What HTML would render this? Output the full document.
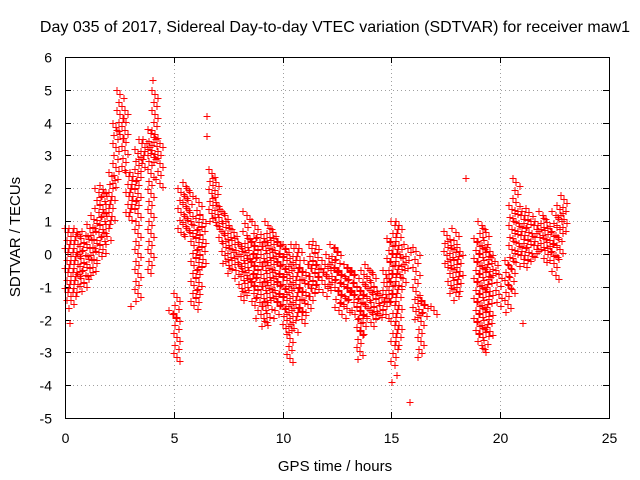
<!DOCTYPE html>
<html><head><meta charset="utf-8"><style>
body{margin:0;background:#fff;}
svg{display:block;font-family:"Liberation Sans",sans-serif;}
</style></head><body>
<svg id="chart" width="640" height="480">
<text x="335" y="32" text-anchor="middle" font-size="16">Day 035 of 2017, Sidereal Day-to-day VTEC variation (SDTVAR) for receiver maw1</text>
<text x="335" y="471" text-anchor="middle" font-size="15">GPS time / hours</text>
<text transform="translate(20,237) rotate(-90)" text-anchor="middle" font-size="15">SDTVAR / TECUs</text>
<g id="grid"></g>
<g id="ticks"></g>
<g id="marks"></g>
<rect x="65.5" y="57.5" width="544" height="361" fill="none" stroke="#000" stroke-width="1"/>
</svg>
<script>
const xTicks=[0,5,10,15,20,25];
const yTicks=[6,5,4,3,2,1,0,-1,-2,-3,-4,-5];
const binT=[0,0.2,0.4,0.6,0.8,1.0,1.2,1.4,1.6,1.8,2.0,2.2,2.4,2.6,2.8,3.0,3.2,3.4,3.6,3.8,4.0,4.2,4.8,5.0,5.2,5.4,5.6,5.8,6.0,6.2,6.6,6.8,7.0,7.2,7.4,7.6,7.8,8.0,8.2,8.4,8.6,8.8,9.0,9.2,9.4,9.6,9.8,10.0,10.2,10.4,10.6,10.8,11.0,11.2,11.4,11.6,11.8,12.0,12.2,12.4,12.6,12.8,13.0,13.2,13.4,13.6,13.8,14.0,14.2,14.4,14.6,14.8,15.0,15.2,15.4,15.6,16.0,16.2,16.4,16.8,17.4,17.6,17.8,18.0,18.8,19.0,19.2,19.4,19.6,19.8,20.2,20.4,20.6,20.8,21.0,21.2,21.4,21.6,21.8,22.0,22.2,22.4,22.6,22.8];
const binLo=[-1.5,-1.7,-1.2,-1.0,-1.2,-0.8,-0.7,-0.3,0.0,0.3,0.8,2.0,3.5,2.5,1.0,1.2,-1.5,2.5,2.8,-0.6,2.8,2.0,-2.0,-3.3,0.5,0.5,0.5,-1.8,-1.5,-0.5,1.0,0.8,0.3,-0.3,-0.7,-0.5,-0.8,-1.5,-1.3,-1.2,-1.6,-2.0,-2.3,-2.2,-1.5,-2.0,-1.7,-2.5,-3.3,-2.5,-2.0,-2.2,-1.8,-1.5,-1.3,-1.0,-1.3,-1.2,-1.0,-1.7,-2.0,-1.8,-1.4,-2.0,-3.2,-2.5,-2.0,-2.3,-2.0,-2.0,-2.0,-1.5,-3.5,-2.8,-1.0,-0.5,-2.0,-3.2,-2.0,-1.9,-0.5,-1.3,-1.4,-1.2,-2.5,-3.0,-3.0,-2.5,-0.8,-1.6,-1.8,-1.3,-0.5,-0.2,-0.5,-0.3,-0.3,0.0,0.0,-0.3,-0.2,-0.8,-0.2,0.7];
const binHi=[0.8,0.8,0.8,0.6,0.7,0.9,1.2,2.0,2.1,1.9,2.5,4.0,5.0,4.5,2.5,2.5,3.2,3.5,3.5,3.8,5.0,3.5,-1.7,-1.2,2.0,2.2,2.0,1.0,1.7,1.2,2.6,2.3,1.5,1.3,1.0,0.8,0.5,0.3,1.3,0.5,1.0,0.5,0.6,1.0,0.8,0.5,0.4,0.3,0.0,0.3,0.3,-0.4,-0.2,0.3,0.4,-0.3,-0.2,0.0,0.3,0.2,-0.5,-0.3,-0.4,-0.5,-1.0,-0.5,-0.3,-0.5,-1.0,-1.2,-0.5,0.5,1.0,1.0,0.0,0.3,0.2,-1.3,-1.4,-1.6,0.7,0.4,0.8,0.2,0.5,1.0,0.8,0.2,-0.1,-0.5,-0.2,1.5,2.3,1.3,1.3,1.4,1.0,1.0,1.3,1.1,0.8,1.3,1.5,1.8];
const outX=[6.5,6.5,15.8,15.0,18.4,0.2,21.0,15.2,4.0,3.0];
const outY=[4.2,3.6,-4.5,-3.9,2.3,-2.1,-2.1,-3.7,5.3,-1.6];
const binW=0.2;

const NS="http://www.w3.org/2000/svg";
const X=v=>65+(v/25)*544;
const Y=v=>57+((6-v)/11)*361;
const grid=document.getElementById('grid'),ticks=document.getElementById('ticks'),marks=document.getElementById('marks');
function mk(tag,attrs,parent){const e=document.createElementNS(NS,tag);for(const k in attrs)e.setAttribute(k,attrs[k]);parent.appendChild(e);return e;}
xTicks.forEach(t=>{
  const x=Math.round(X(t))+0.5;
  if(t>0&&t<25){const g=mk('line',{x1:x,x2:x,y1:57,y2:418,stroke:'#a0a0a0','stroke-dasharray':'1,3'},grid);
  
  }
  mk('line',{x1:x,x2:x,y1:418,y2:412,stroke:'#000'},grid);
  mk('line',{x1:x,x2:x,y1:57,y2:63,stroke:'#000'},grid);
  const l=mk('text',{x:x,y:443,'text-anchor':'middle','font-size':'14'},ticks);l.textContent=t;
  
  
});
yTicks.forEach(t=>{
  const y=Math.round(Y(t))+0.5;
  if(t<6&&t>-5){const g=mk('line',{x1:65,x2:609,y1:y,y2:y,stroke:'#a0a0a0','stroke-dasharray':'1,3'},grid);
  
  }
  mk('line',{x1:65,x2:71,y1:y,y2:y,stroke:'#000'},grid);
  mk('line',{x1:609,x2:603,y1:y,y2:y,stroke:'#000'},grid);
  const l=mk('text',{x:52,y:y+5,'text-anchor':'end','font-size':'14'},ticks);l.textContent=t;
  
  
});
function plus(x,y){x=Math.round(x)+0.5;y=Math.round(y)+0.5;return `M${x-3} ${y}h7M${x+0.5} ${y-3.5}v7`;}
const offs=[0,0.5,1,0.25,0.75];
binT.forEach((t,i)=>{
  let d='';const y0=Y(binHi[i]),y1=Y(binLo[i]);const x0=X(t)-1,x1=X(t+binW)+1;
  let k=0;
  for(let y=y0;y<=y1+0.1;y+=4){const x=x0+offs[k%5]*(x1-x0);d+=plus(x,y);k++;}
  const p=mk('path',{d:d,stroke:'#ff0000','stroke-width':'1',fill:'none','shape-rendering':'crispEdges'},marks);
  
  
});
outX.forEach((v,i)=>{
  const p=mk('path',{d:plus(X(v),Y(outY[i])),stroke:'#ff0000','stroke-width':'1','shape-rendering':'crispEdges'},marks);
  
  
});
</script>
</body></html>
